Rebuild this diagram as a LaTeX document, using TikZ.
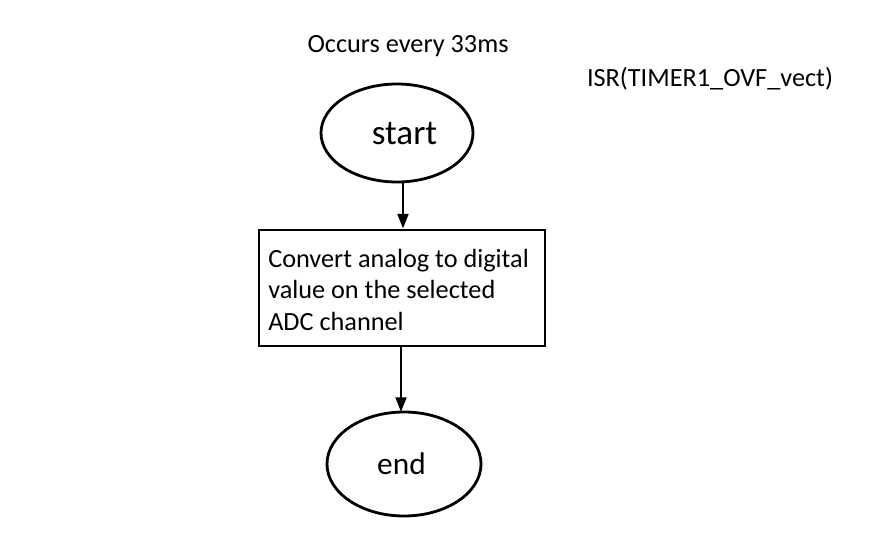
\documentclass[tikz,border=0pt]{standalone}
\usepackage{fontspec}
\setmainfont{Carlito}
\usetikzlibrary{shapes.geometric,arrows.meta}
\begin{document}
\begin{tikzpicture}[x=0.75pt,y=-0.75pt,
  oval/.style={draw,line width=2.1pt},
  flowbox/.style={draw,line width=2.1pt},
  conn/.style={line width=2.1pt,-{Triangle[length=11pt,width=8pt]}},
  lbl/.style={inner sep=0pt,anchor=base,font=\fontsize{19.7}{23.3}\selectfont}]
\useasboundingbox (0,0) rectangle (892,556);
\draw[oval] (397,133) ellipse [x radius=76, y radius=49];
\node[lbl,font=\fontsize{26.3}{30}\selectfont] (start) at (404.5,145) {start};
\coordinate (startb) at (403,181.5);
\node[flowbox,minimum width=286*0.75pt,minimum height=116*0.75pt,inner sep=0pt] (proc) at (402,288) {};
\node[lbl,align=left,anchor=base west] (ptext) at (268,330) {Convert analog to digital\\value on the selected\\ADC channel};
\draw[oval] (404,464) ellipse [x radius=77, y radius=52];
\node[lbl,font=\fontsize{23.5}{28}\selectfont] (end) at (401.5,474) {end};
\coordinate (endt) at (401,412);
\draw[conn] (startb) -- (startb |- proc.north);
\draw[conn] (proc.south -| endt) -- (endt);
\node[lbl] (occ) at (408,52.3) {Occurs every 33ms};
\node[lbl] (isr) at (710,86.7) {ISR(TIMER1\_OVF\_vect)};
\end{tikzpicture}
\end{document}
